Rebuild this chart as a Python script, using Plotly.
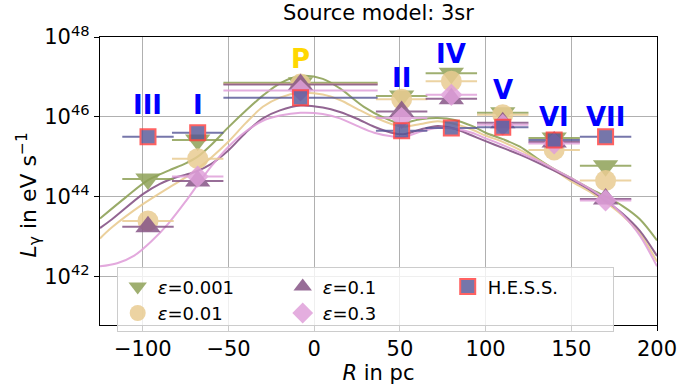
import numpy as np
import plotly.graph_objects as go

# ---------------- data ----------------
region_names = ["III", "I", "P", "II", "IV", "V", "VI", "VII"]
region_R = [-97, -68, -8, 51, 80, 110, 140, 170]          # pc
region_R_err = [15, 15, 45, 15, 15, 15, 15, 15]           # pc

# log10 of L_gamma [eV/s] per region
logL_eps0001 = [44.44, 45.42, 46.85, 46.52, 47.09, 46.10, 45.47, 44.77]
logL_eps001 = [43.39, 44.95, 46.82, 46.44, 46.89, 46.05, 45.17, 44.40]
logL_eps01 = [43.24, 44.39, 46.81, 46.13, 46.45, 45.85, 45.37, 43.94]
logL_eps03 = [None, 44.50, 46.66, 45.97, 46.55, 45.80, 45.33, 43.90]
logL_hess = [45.50, 45.60, 46.48, 45.65, 45.72, 45.74, 45.42, 45.50]

# model profiles (R in pc, log10 L)
curve_R_0001 = [-125, -110, -97, -85, -75, -68, -60, -50, -40, -30, -20, -8, 5, 15, 29, 40, 50, 62, 72, 82, 92,
                100, 110, 120, 130, 140, 150, 160, 170, 180, 190, 200]
curve_L_0001 = [43.45, 43.98, 44.41, 44.65, 44.83, 45.00, 45.30, 45.74, 46.15, 46.53, 46.84, 47.02, 46.95, 46.71,
                46.25, 45.99, 45.84, 45.94, 45.97, 45.92, 45.77, 45.60, 45.44, 45.25, 44.96, 44.69, 44.46, 44.22,
                44.00, 43.76, 43.43, 42.90]

curve_R_001 = [-125, -118, -100, -85, -75, -68, -60, -50, -40, -30, -20, -8, 5, 15, 25, 35, 45, 52, 62, 72, 82, 92,
               100, 110, 120, 130, 140, 150, 160, 170, 180, 190, 200]
curve_L_001 = [42.95, 43.23, 43.81, 44.22, 44.48, 44.70, 44.98, 45.38, 45.84, 46.25, 46.48, 46.60, 46.56, 46.42,
               46.20, 45.99, 45.82, 45.75, 45.82, 45.89, 45.82, 45.68, 45.53, 45.37, 45.17, 44.93, 44.67, 44.38,
               44.14, 43.86, 43.52, 43.07, 42.37]

curve_R_01 = [-125, -118, -100, -90, -80, -70, -60, -50, -40, -30, -20, -8, 5, 15, 25, 35, 45, 52, 62, 72, 82, 92,
              100, 110, 120, 130, 140, 150, 160, 170, 180, 190, 200]
curve_L_01 = [43.21, 43.43, 44.06, 44.32, 44.49, 44.61, 44.82, 45.16, 45.60, 45.96, 46.16, 46.28, 46.23, 46.12,
              45.95, 45.75, 45.60, 45.56, 45.68, 45.77, 45.70, 45.53, 45.39, 45.22, 45.05, 44.86, 44.65, 44.43,
              44.19, 43.90, 43.57, 43.14, 42.51]

curve_R_03 = [-125, -115, -105, -95, -85, -75, -68, -60, -50, -40, -30, -20, -8, 5, 15, 25, 35, 45, 52, 62, 72, 82,
              92, 100, 110, 120, 130, 140, 150, 160, 170, 180, 190, 200]
curve_L_03 = [42.25, 42.33, 42.52, 42.88, 43.33, 43.88, 44.30, 44.76, 45.25, 45.63, 45.90, 46.03, 46.10, 46.07,
              45.96, 45.77, 45.60, 45.51, 45.49, 45.63, 45.72, 45.70, 45.60, 45.46, 45.29, 45.10, 44.91, 44.69,
              44.46, 44.22, 43.93, 43.54, 43.02, 42.25]

# label placement (log10 L of each region tag)
label_logy = [46.30, 46.30, 47.46, 46.97, 47.57, 46.68, 45.99, 45.99]

y_tick_exponents = [42, 44, 46, 48]
x_tick_values = [-100, -50, 0, 50, 100, 150, 200]


def to_lin(vals):
    return [None if v is None else 10.0 ** v for v in vals]


C_GREEN = "rgb(143,162,88)"
C_ORANGE = "rgb(233,204,146)"
C_PURPLE = "rgb(135,85,135)"
C_PINK = "rgb(224,160,218)"
C_HESS = "rgb(85,85,150)"

FONT = "DejaVu Sans"

fig = go.Figure()

# model curves
for cR, cL, col in [(curve_R_0001, curve_L_0001, C_GREEN), (curve_R_001, curve_L_001, C_ORANGE),
                    (curve_R_01, curve_L_01, C_PURPLE), (curve_R_03, curve_L_03, C_PINK)]:
    fig.add_trace(go.Scatter(x=cR, y=to_lin(cL), mode="lines", showlegend=False, hoverinfo="skip",
                             line=dict(color=col, width=2, shape="spline", smoothing=0.9), opacity=0.9))

# region luminosities per efficiency
series = [
    ("<i>ε</i>=0.001", logL_eps0001, C_GREEN, "triangle-down", 22, 1),
    ("<i>ε</i>=0.01", logL_eps001, C_ORANGE, "circle", 21, 4),
    ("<i>ε</i>=0.1", logL_eps01, C_PURPLE, "triangle-up", 22, 2),
    ("<i>ε</i>=0.3", logL_eps03, C_PINK, "diamond", 17, 5),
]
for name, vals, col, sym, size, rank in series:
    fig.add_trace(go.Scatter(
        x=region_R, y=to_lin(vals), mode="markers", name=name, legendrank=rank,
        marker=dict(symbol=sym, size=size, color=col, line=dict(width=0)),
        error_x=dict(type="data", array=region_R_err, color=col, thickness=2, width=0),
        opacity=0.85))

fig.add_trace(go.Scatter(
    x=region_R, y=to_lin(logL_hess), mode="markers", name="H.E.S.S.", legendrank=3,
    marker=dict(symbol="square", size=15, color=C_HESS, line=dict(width=2, color="rgb(255,60,60)")),
    error_x=dict(type="data", array=region_R_err, color=C_HESS, thickness=2, width=0),
    error_y=dict(type="percent", value=25, color="rgb(40,40,110)", thickness=1.5, width=0),
    opacity=0.8))

# region tags
for name, xr, ly in zip(region_names, region_R, label_logy):
    fig.add_annotation(x=xr, y=ly, text=f"<b>{name}</b>", showarrow=False,
                       font=dict(family=FONT, size=26, color="#FFD700" if name == "P" else "#0000FF"),
                       xanchor="center", yanchor="middle")

# y-axis title
fig.add_annotation(x=-71 / 557, y=0.45, xref="paper", yref="paper", showarrow=False, textangle=-90,
                   text="<i>L</i><sub>γ</sub> in eV s<sup>−1</sup>", xanchor="center", yanchor="middle",
                   font=dict(family=FONT, size=22, color="black"))

fig.update_layout(
    width=697, height=390,
    margin=dict(l=100, r=40, t=37, b=52),
    paper_bgcolor="white", plot_bgcolor="white",
    font=dict(family=FONT, size=21, color="black"),
    title=dict(text="Source model: 3sr", x=(100 + 657) / 2 / 697, xanchor="center",
               y=1 - 13 / 390, yanchor="middle", font=dict(size=21)),
    legend=dict(orientation="h", x=0.03, y=0.2, xanchor="left", yanchor="top",
                bgcolor="rgba(255,255,255,0.8)", bordercolor="#cccccc", borderwidth=1,
                font=dict(size=18), entrywidth=120, traceorder="normal", itemsizing="trace"),
)

fig.update_xaxes(range=[-125, 200], tickvals=x_tick_values, showgrid=True, gridcolor="#b0b0b0", gridwidth=1,
                 showline=True, linecolor="black", linewidth=1.2, mirror=True, ticks="outside", ticklen=5,
                 tickcolor="black", zeroline=False,
                 title=dict(text="<i>R</i> in pc", standoff=2, font=dict(size=21)))
fig.update_yaxes(type="log", range=[40.78, 48], tickvals=[10.0 ** e for e in y_tick_exponents],
                 ticktext=[f"10<sup>{e}</sup>" for e in y_tick_exponents],
                 showgrid=True, gridcolor="#b0b0b0", gridwidth=1,
                 showline=True, linecolor="black", linewidth=1.2, mirror=True, ticks="outside", ticklen=5,
                 tickcolor="black", zeroline=False)

fig.write_html("out.html")
